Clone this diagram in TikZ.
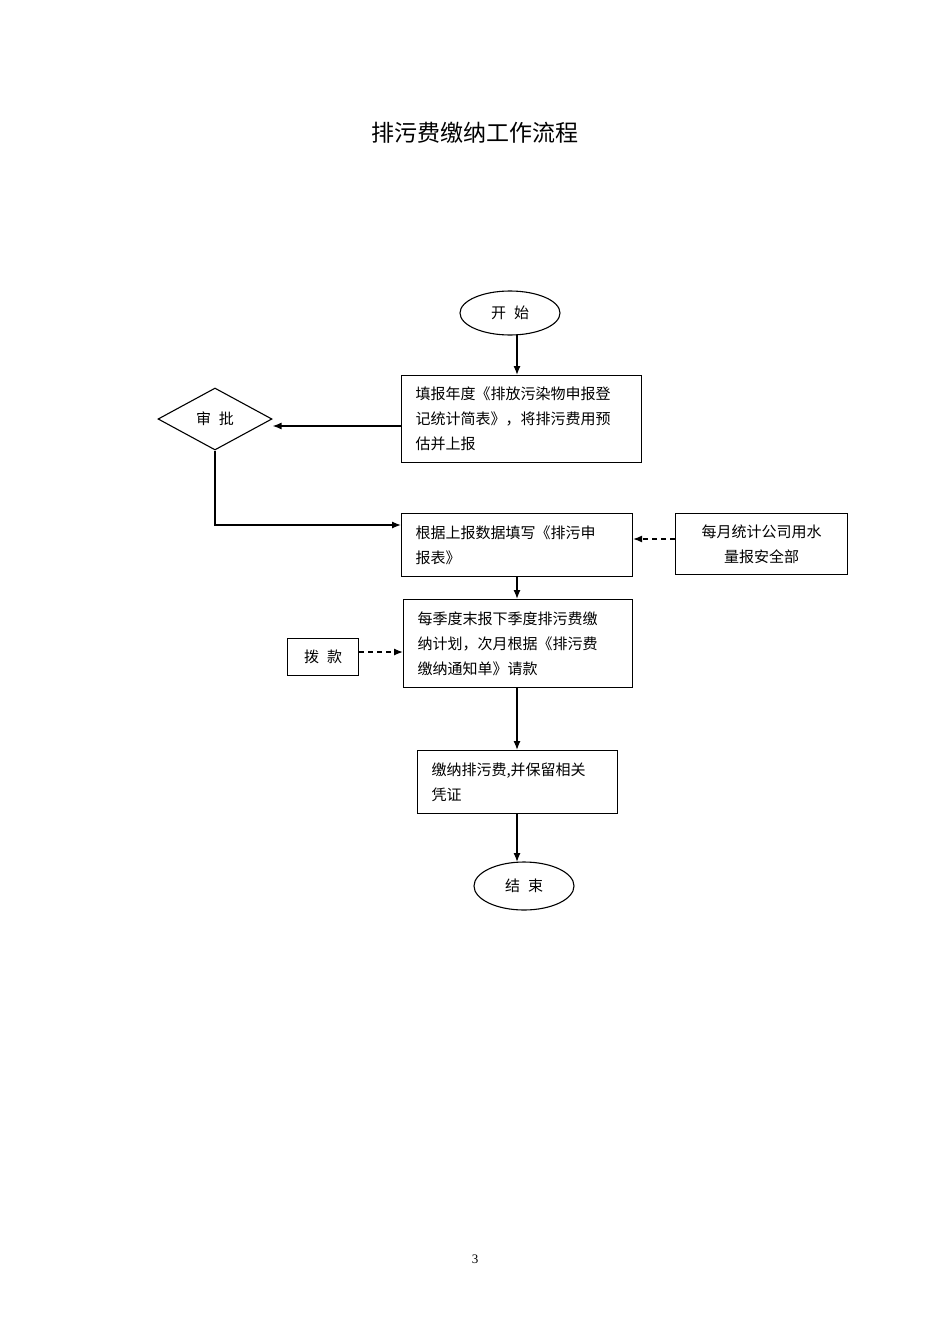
\documentclass[tikz,border=0pt]{standalone}
\usepackage{fontspec}
\setmainfont{Liberation Serif}
\newfontfamily\cjk{Noto Sans CJK SC}
\usetikzlibrary{shapes.geometric,arrows.meta}
\tikzset{
 bx/.style={draw,line width=1.1pt,rectangle,anchor=north west,align=left,inner xsep=14pt,font=\cjk\fontsize{15}{25}\selectfont},
 ov/.style={draw,line width=1.1pt,ellipse,font=\cjk\fontsize{15}{18}\selectfont},
 ar/.style={line width=1.3pt,-{Latex[length=9pt,width=7pt]}},
 da/.style={ar,dashed,dash pattern=on 5pt off 4pt}
}
\begin{document}
\begin{tikzpicture}[x=1pt,y=-1pt]
\useasboundingbox[fill=white](0,0) rectangle (950,1344);
\node[font=\cjk\fontsize{23}{26}\selectfont] (title) at (475,133) {排污费缴纳工作流程};
\node[ov,minimum width=100pt,minimum height=44pt] (start) at (510,313) {开\hspace{8pt}始};
\node[bx,minimum width=240pt,minimum height=87pt,text width=212pt] (b1) at (401,375) {填报年度《排放污染物申报登\\记统计简表》，将排污费用预\\估并上报};
\node[draw,line width=1.1pt,diamond,minimum width=114pt,minimum height=62pt,inner sep=0pt,font=\cjk\fontsize{15}{18}\selectfont] (sp) at (215,419) {审\hspace{8pt}批};
\node[bx,minimum width=231pt,minimum height=63pt,text width=203pt] (b2) at (401,513) {根据上报数据填写《排污申\\报表》};
\node[bx,minimum width=172pt,minimum height=61pt,align=center,inner xsep=4pt,text width=164pt] (r) at (675,513) {每月统计公司用水\\量报安全部};
\node[bx,minimum width=229pt,minimum height=88pt,text width=201pt] (b3) at (403,599) {每季度末报下季度排污费缴\\纳计划，次月根据《排污费\\缴纳通知单》请款};
\node[bx,minimum width=71pt,minimum height=37pt,align=center,inner xsep=2pt,text width=67pt] (bk) at (287,638) {拨\hspace{8pt}款};
\node[bx,minimum width=200pt,minimum height=63pt,text width=172pt] (b4) at (417,750) {缴纳排污费,并保留相关\\凭证};
\node[ov,minimum width=100pt,minimum height=48pt] (end) at (524,886) {结\hspace{8pt}束};
\node[font=\fontsize{13}{15}\selectfont] (pg) at (475,1259) {3};
\draw[ar] (517,335) -- (517,375);
\draw[ar] (b1.west |- 0,426) -- (sp.east |- 0,426);
\draw[ar] (sp.south) -- (215,525) -- (b2.west |- 0,525);
\draw[da] (r.west |- 0,539) -- (b2.east |- 0,539);
\draw[ar] (517,576) -- (517,599);
\draw[da] (bk.east |- 0,652) -- (b3.west |- 0,652);
\draw[ar] (517,687) -- (517,750);
\draw[ar] (517,813) -- (517,862);
\end{tikzpicture}
\end{document}
